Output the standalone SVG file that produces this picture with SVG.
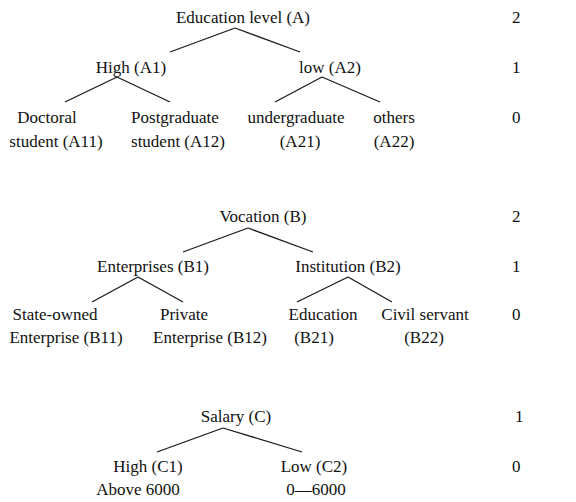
<svg xmlns="http://www.w3.org/2000/svg" width="576" height="502" viewBox="0 0 576 502">
<style>
text{font-family:'Liberation Serif','Times New Roman','DejaVu Serif',serif;font-size:17px;fill:#111;text-anchor:middle}
.lv{text-anchor:start}
.c line{stroke:#1a1a1a;stroke-width:1.3}
</style>
<rect width="576" height="502" fill="#fff"/>
<g class="c" id="connectors">
<line x1="235" y1="28" x2="170" y2="52"/><line x1="235" y1="28" x2="300" y2="52"/>
<line x1="117" y1="77" x2="65" y2="102"/><line x1="117" y1="77" x2="170" y2="102"/>
<line x1="322" y1="77" x2="275" y2="102"/><line x1="322" y1="77" x2="380" y2="102"/>
<line x1="248" y1="228" x2="183" y2="252"/><line x1="248" y1="228" x2="313" y2="252"/>
<line x1="138" y1="277" x2="92" y2="302"/><line x1="138" y1="277" x2="183" y2="302"/>
<line x1="348" y1="277" x2="297" y2="302"/><line x1="348" y1="277" x2="392" y2="302"/>
<line x1="223" y1="428" x2="157" y2="452"/><line x1="223" y1="428" x2="302" y2="452"/>
</g>
<g font-family="Liberation Serif, serif">
<g id="A"><text x="243" y="23">Education level (A)</text></g>
<g id="A1"><text x="131" y="73">High (A1)</text></g>
<g id="A2"><text x="330" y="73">low (A2)</text></g>
<g id="A11"><text x="47" y="123">Doctoral</text><text x="56" y="147">student (A11)</text></g>
<g id="A12"><text x="175" y="123">Postgraduate</text><text x="178" y="147">student (A12)</text></g>
<g id="A21"><text x="296" y="123">undergraduate</text><text x="300" y="147">(A21)</text></g>
<g id="A22"><text x="394" y="123">others</text><text x="394" y="147">(A22)</text></g>
<g id="B"><text x="263" y="222">Vocation (B)</text></g>
<g id="B1"><text x="153" y="272">Enterprises (B1)</text></g>
<g id="B2"><text x="348" y="272">Institution (B2)</text></g>
<g id="B11"><text x="55" y="320">State-owned</text><text x="66" y="343">Enterprise (B11)</text></g>
<g id="B12"><text x="184" y="320">Private</text><text x="210" y="343">Enterprise (B12)</text></g>
<g id="B21"><text x="323" y="320">Education</text><text x="314" y="343">(B21)</text></g>
<g id="B22"><text x="425" y="320">Civil servant</text><text x="424" y="343">(B22)</text></g>
<g id="C"><text x="236" y="422">Salary (C)</text></g>
<g id="C1"><text x="148" y="472">High (C1)</text><text x="138" y="495">Above 6000</text></g>
<g id="C2"><text x="314" y="472">Low (C2)</text><text x="316" y="495">0—6000</text></g>
<g id="levels">
<text class="lv" x="512" y="23">2</text><text class="lv" x="512" y="73">1</text><text class="lv" x="512" y="123">0</text>
<text class="lv" x="512" y="222">2</text><text class="lv" x="512" y="272">1</text><text class="lv" x="512" y="320">0</text>
<text class="lv" x="515" y="422">1</text><text class="lv" x="512" y="472">0</text>
</g>
</g>
</svg>
